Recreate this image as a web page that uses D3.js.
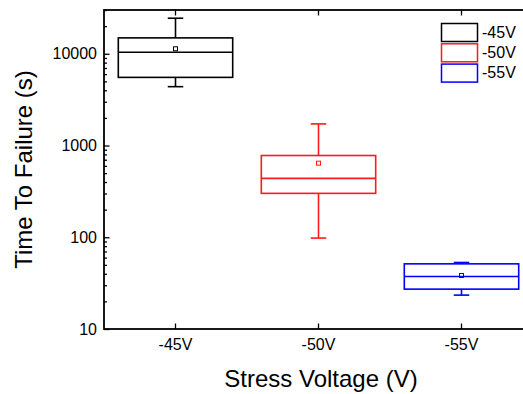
<!DOCTYPE html>
<html><head><meta charset="utf-8">
<script src="https://cdn.jsdelivr.net/npm/d3@7"></script>
<style>
html,body{margin:0;padding:0;background:#fff;overflow:hidden;}
text{font-family:"Liberation Sans",Arial,sans-serif;}
</style></head>
<body><svg id="c" width="523" height="394"></svg>
<script>
const categories = ["-45V","-50V","-55V"];
const whiskerLow  = [4380, 98, 23.4];
const q1          = [5530, 301, 27.2];
const median      = [10400, 438, 37.4];
const q3          = [14900, 778, 51.3];
const whiskerHigh = [24400, 1720, 53.1];
const mean        = [11330, 642, 38.3];
const colors      = ["#000000", "#ff1a1a", "#0000ff"];
const yTicks      = [10, 100, 1000, 10000];
const yTickLabels = ["10", "100", "1000", "10000"];
const xTitle = "Stress Voltage (V)";
const yTitle = "Time To Failure (s)";

const svg = d3.select("#c");
const L = 104, R = 533, T = 10, B = 329;
const x = d3.scaleBand().domain(categories).range([L, R]).padding(0);
const y = d3.scaleLog().domain([10, 30000]).range([B, T]);

const minor = [];
for (let d = 10; d < 30000; d *= 10) for (let k = 2; k <= 9; k++) if (d*k <= 30000) minor.push(d*k);

// boxes
const bw = x.bandwidth() * 0.8, cap = 15.5;
categories.forEach((c, i) => {
  const cx = x(c) + x.bandwidth()/2;
  const g = svg.append("g").attr("stroke", colors[i]).attr("fill", "none").attr("stroke-width", 1.6);
  g.append("line").attr("x1", cx).attr("x2", cx).attr("y1", y(whiskerHigh[i])).attr("y2", y(q3[i]));
  g.append("line").attr("x1", cx).attr("x2", cx).attr("y1", y(q1[i])).attr("y2", y(whiskerLow[i]));
  g.append("line").attr("x1", cx-cap/2).attr("x2", cx+cap/2).attr("y1", y(whiskerHigh[i])).attr("y2", y(whiskerHigh[i]));
  g.append("line").attr("x1", cx-cap/2).attr("x2", cx+cap/2).attr("y1", y(whiskerLow[i])).attr("y2", y(whiskerLow[i]));
  g.append("rect").attr("x", cx-bw/2).attr("width", bw).attr("y", y(q3[i])).attr("height", y(q1[i]) - y(q3[i]));
  g.append("line").attr("x1", cx-bw/2).attr("x2", cx+bw/2).attr("y1", y(median[i])).attr("y2", y(median[i]));
  g.append("rect").attr("x", cx-2).attr("y", y(mean[i])-2).attr("width", 4).attr("height", 4).attr("stroke-width", 1);
});

// axes
function styleAxis(g){ g.select(".domain").remove(); g.selectAll("line").attr("stroke","#000").attr("stroke-width",1.3); }
const fs = "16px";
svg.append("g").attr("transform", `translate(${L},0)`)
  .call(d3.axisRight(y).tickValues(yTicks).tickSize(5.5).tickFormat("")).call(styleAxis);
svg.append("g").attr("transform", `translate(${L},0)`)
  .call(d3.axisRight(y).tickValues(minor).tickSize(3).tickFormat("")).call(styleAxis);
svg.append("g").attr("transform", `translate(${R},0)`)
  .call(d3.axisLeft(y).tickValues(yTicks).tickSize(5.5).tickFormat("")).call(styleAxis);
svg.append("g").attr("transform", `translate(${R},0)`)
  .call(d3.axisLeft(y).tickValues(minor).tickSize(3).tickFormat("")).call(styleAxis);
svg.selectAll(".ylab").data(yTicks).join("text").attr("class","ylab")
  .attr("x", L-7).attr("y", d => y(d)).attr("dy","0.35em").attr("text-anchor","end")
  .attr("font-size", fs).text((d,i) => yTickLabels[i]);

svg.append("g").attr("transform", `translate(0,${B})`)
  .call(d3.axisTop(x).tickSize(5.5).tickFormat("")).call(styleAxis);
svg.append("g").attr("transform", `translate(0,${T})`)
  .call(d3.axisBottom(x).tickSize(5.5).tickFormat("")).call(styleAxis);
svg.selectAll(".xlab").data(categories).join("text").attr("class","xlab")
  .attr("x", d => x(d) + x.bandwidth()/2).attr("y", 350).attr("text-anchor","middle")
  .attr("font-size", fs).text(d => d);

// frame
svg.append("rect").attr("x", L).attr("y", T).attr("width", R-L).attr("height", B-T)
  .attr("fill","none").attr("stroke","#000").attr("stroke-width",1.8);

// titles
svg.append("text").attr("x", 321).attr("y", 387).attr("text-anchor","middle")
  .attr("font-size","24px").text(xTitle);
svg.append("text").attr("transform", `translate(32,${(T+B)/2}) rotate(-90)`).attr("text-anchor","middle")
  .attr("font-size","24px").text(yTitle);

// legend
const lg = svg.append("g");
categories.forEach((c, i) => {
  const yy = 23.5 + i*20.3;
  lg.append("rect").attr("x", 441.5).attr("y", yy).attr("width", 36).attr("height", 18)
    .attr("fill","none").attr("stroke", colors[i]).attr("stroke-width",1.5);
  lg.append("text").attr("x", 482).attr("y", yy + 14).attr("font-size","16px").text(c);
});
</script></body></html>
